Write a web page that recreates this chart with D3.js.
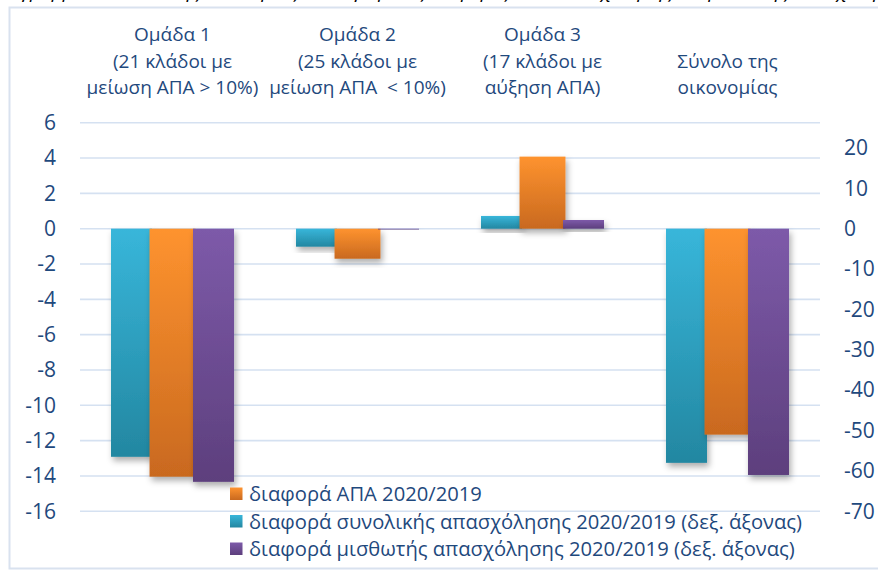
<!DOCTYPE html>
<html>
<head>
<meta charset="utf-8">
<script src="https://cdn.jsdelivr.net/npm/d3@7/dist/d3.min.js"></script>
<style>
  html, body { margin: 0; padding: 0; background: #ffffff; }
  svg { display: block; }
  text { font-family: "Open Sans", "Noto Sans", sans-serif; fill: #1f497d; }
</style>
</head>
<body>
<svg id="chart" width="878" height="570"></svg>
<script>
// ---------- data ----------
const categories = ["g1", "g2", "g3", "total"];
const categoryLabels = [
  ["Ομάδα 1", "(21 κλάδοι με", "μείωση ΑΠΑ > 10%)"],
  ["Ομάδα 2", "(25 κλάδοι με", "μείωση ΑΠΑ  < 10%)"],
  ["Ομάδα 3", "(17 κλάδοι με", "αύξηση ΑΠΑ)"],
  ["Σύνολο της", "οικονομίας"]
];
const gvaDiff = [-14.04, -1.70, 4.08, -11.66];          // left axis
const totalEmpDiff = [-56.5, -4.46, 3.15, -58.0];       // right axis
const wageEmpDiff = [-62.7, -0.2, 2.15, -61.0];         // right axis
const leftTicks = [6, 4, 2, 0, -2, -4, -6, -8, -10, -12, -14, -16];
const rightTicks = [20, 10, 0, -10, -20, -30, -40, -50, -60, -70];
const leftDomain = [-16, 6];
const rightDomain = [-70, 26.25];
const legendLabels = [
  "διαφορά ΑΠΑ 2020/2019",
  "διαφορά συνολικής απασχόλησης 2020/2019 (δεξ. άξονας)",
  "διαφορά μισθωτής απασχόλησης 2020/2019 (δεξ. άξονας)"
];
const titleText = "Διάγραμμα 4: Κλάδοι της οικονομίας ανάλογα με τις διαφορές ΑΠΑ, απασχόλησης και μισθωτής απασχόλησης 2020/2019";

// ---------- layout ----------
const svg = d3.select("#chart");
const plot = { left: 80, right: 820, top: 122.7, bottom: 511.3 };

const x = d3.scaleBand().domain(categories).range([plot.left, plot.right]).padding(0);
const sub = d3.scaleBand().domain(["emp", "gva", "wage"]).range([0, x.bandwidth()])
  .paddingInner(0).paddingOuter(0.756);
const yL = d3.scaleLinear().domain(leftDomain).range([plot.bottom, plot.top]);
const yR = d3.scaleLinear().domain(rightDomain).range([plot.bottom, plot.top]);
const fmt = d => String(d);

// ---------- defs ----------
const defs = svg.append("defs");
const grads = {
  emp: ["#38b6da", "#2387a1"],
  gva: ["#fe932f", "#c9691f"],
  wage: ["#7d5aa9", "#5d3f7d"]
};
Object.entries(grads).forEach(([k, c]) => {
  const g = defs.append("linearGradient").attr("id", "grad-" + k)
    .attr("x1", 0).attr("y1", 0).attr("x2", 0).attr("y2", 1);
  g.append("stop").attr("offset", "0%").attr("stop-color", c[0]);
  g.append("stop").attr("offset", "100%").attr("stop-color", c[1]);
});
const f = defs.append("filter").attr("id", "shadow")
  .attr("x", "-30%").attr("y", "-30%").attr("width", "160%").attr("height", "160%");
f.append("feDropShadow").attr("dx", 2).attr("dy", 4).attr("stdDeviation", 3)
  .attr("flood-color", "#000").attr("flood-opacity", 0.32);

// ---------- clipped title line (cut off at the top edge, as in the source) ----------
svg.append("text")
  .attr("x", -6).attr("y", -2)
  .style("font-style", "italic").style("font-size", "19px").style("fill", "#000")
  .text(titleText);

// ---------- frame ----------
svg.append("path")
  .attr("d", "M 890 7.5 H 9.5 V 568.5 H 890")
  .attr("fill", "none").attr("stroke", "#d9e2ef").attr("stroke-width", 2);

// ---------- gridlines ----------
svg.append("g").selectAll("line").data(leftTicks).join("line")
  .attr("x1", plot.left).attr("x2", plot.right)
  .attr("y1", d => yL(d)).attr("y2", d => yL(d))
  .attr("stroke", "#d5e1f1").attr("stroke-width", 1.6);

// ---------- axes ----------
const axL = svg.append("g").attr("transform", `translate(${plot.left},0)`)
  .call(d3.axisLeft(yL).tickValues(leftTicks).tickSize(0).tickPadding(24).tickFormat(fmt));
axL.select(".domain").remove();
axL.attr("font-family", null).attr("font-size", null);
axL.selectAll("text").style("font-size", "21px").attr("fill", null);

const axR = svg.append("g").attr("transform", `translate(${plot.right},0)`)
  .call(d3.axisRight(yR).tickValues(rightTicks).tickSize(0).tickPadding(24).tickFormat(fmt));
axR.select(".domain").remove();
axR.attr("font-family", null).attr("font-size", null);
axR.selectAll("text").style("font-size", "21px").attr("fill", null);

const axT = svg.append("g").attr("transform", "translate(0,0)")
  .call(d3.axisTop(x).tickSize(0).tickFormat(""));
axT.select(".domain").remove();
axT.attr("font-family", null).attr("font-size", null);
axT.selectAll(".tick").each(function (d, i) {
  const lines = categoryLabels[i];
  const t = d3.select(this).append("text")
    .attr("text-anchor", "middle")
    .style("font-size", "19px")
    .style("white-space", "pre")
    .attr("xml:space", "preserve");
  const lineYs = [34.3, 61.5, 87.5];
  const offset = 3 - lines.length;
  lines.forEach((ln, j) => {
    t.append("tspan").attr("x", 0).attr("y", lineYs[j + offset]).attr("dy", "0.35em").text(ln);
  });
});

// ---------- bars ----------
const series = [
  { key: "emp", values: totalEmpDiff, scale: yR, widen: 1 },
  { key: "gva", values: gvaDiff, scale: yL, widen: 1.12 },
  { key: "wage", values: wageEmpDiff, scale: yR, widen: 1 }
];
const barsG = svg.append("g");
series.forEach(s => {
  const w = sub.bandwidth() * s.widen;
  barsG.append("g").selectAll("rect").data(s.values).join("rect")
    .attr("x", (d, i) => x(categories[i]) + sub(s.key) + sub.bandwidth() / 2 - w / 2)
    .attr("width", w)
    .attr("y", d => Math.min(s.scale(d), s.scale(0)))
    .attr("height", d => Math.abs(s.scale(d) - s.scale(0)))
    .attr("fill", `url(#grad-${s.key})`)
    .attr("filter", "url(#shadow)");
});

// ---------- legend ----------
const legendKeys = ["gva", "emp", "wage"];
const lg = svg.append("g").attr("transform", "translate(230,494)");
legendKeys.forEach((k, i) => {
  const row = lg.append("g").attr("transform", `translate(0,${i * 27.5})`);
  row.append("rect").attr("x", 0).attr("y", -6.5).attr("width", 12.5).attr("height", 12.5)
    .attr("fill", `url(#grad-${k})`);
  row.append("text").attr("x", 19).attr("y", 0).attr("dy", "0.35em")
    .style("font-size", "20.2px").text(legendLabels[i]);
});
</script>
</body>
</html>
